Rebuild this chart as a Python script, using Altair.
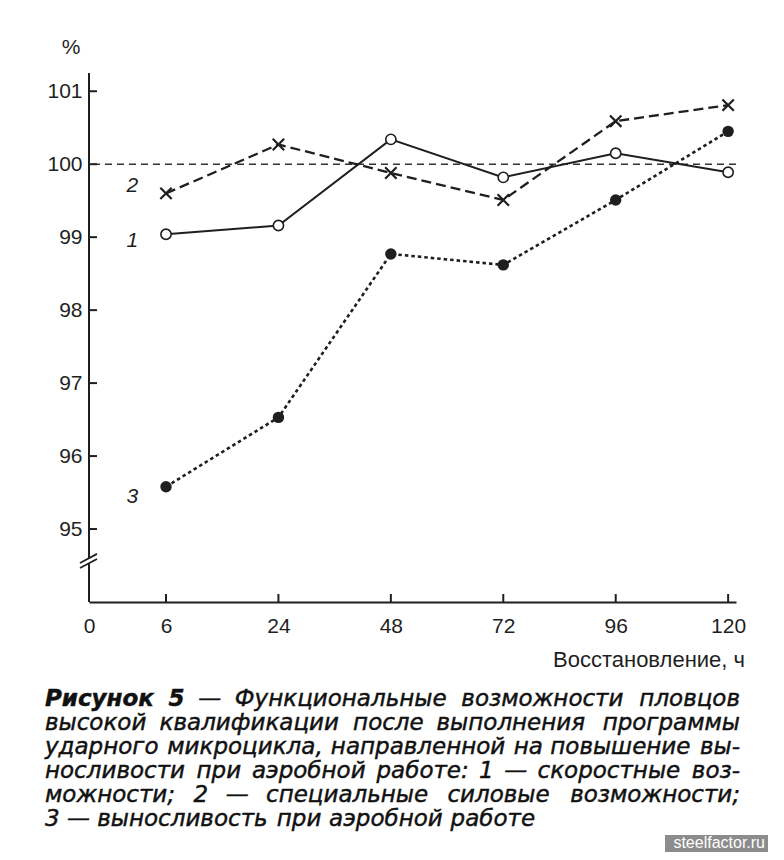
import altair as alt
import pandas as pd

# ---------------- data ----------------
hours = ["6", "24", "48", "72", "96", "120"]
speed = [99.04, 99.16, 100.34, 99.82, 100.15, 99.89]        # 1 — скоростные возможности
strength = [99.60, 100.27, 99.88, 99.51, 100.59, 100.81]    # 2 — специальные силовые возможности
endurance = [95.58, 96.53, 98.77, 98.62, 99.51, 100.45]     # 3 — выносливость при аэробной работе
y_ticks = [95, 96, 97, 98, 99, 100, 101]
series_names = ["1", "2", "3"]
label_values = [98.95, 99.70, 95.44]
reference_value = 100

y_axis_title = "%"
x_axis_title = "Восстановление, ч"
caption_lines = [
    "Рисунок 5 — Функциональные возможности пловцов",
    "высокой квалификации после выполнения программы",
    "ударного микроцикла, направленной на повышение вы-",
    "носливости при аэробной работе: 1 — скоростные воз-",
    "можности; 2 — специальные силовые возможности;",
    "3 — выносливость при аэробной работе",
]
bold_words = 2
watermark = "steelfactor.ru"

# ---------------- layout ----------------
W, H = 647, 529
FONT = "Liberation Sans"
CAP_FONT = "DejaVu Sans"
CAP_SIZE = 23
INK = "#1f1f1f"

xs = alt.Scale(domain=[0.315, 6.07], nice=False, zero=False)
ys = alt.Scale(domain=[94, 101.25], nice=False, zero=False)

x_positions = list(range(1, len(hours) + 1))
tick_vals = [0.315] + x_positions
label_expr = "datum.value < 0.5 ? '0' : " + str(hours) + "[round(datum.value) - 1]"

df = pd.DataFrame({
    "pos": x_positions * 3,
    "hour": hours * 3,
    "value": speed + strength + endurance,
    "series": ["1"] * 6 + ["2"] * 6 + ["3"] * 6,
})

x_axis = alt.Axis(values=tick_vals, labelExpr=label_expr, title=None, grid=False,
                  ticks=False, domain=True, domainColor=INK, domainWidth=2,
                  labelFont=FONT, labelFontSize=21, labelColor=INK, labelPadding=13,
                  labelFlush=False, labelOverlap=False, labelBound=False)
y_axis = alt.Axis(values=y_ticks, title=None, grid=False, ticks=False, domain=False,
                  labelFont=FONT, labelFontSize=21, labelColor=INK, labelPadding=7,
                  labelFlush=False, labelOverlap=False)


def XF(field):
    return alt.X(field, scale=xs, axis=x_axis)


def YF(field):
    return alt.Y(field, scale=ys, axis=y_axis)


base = alt.Chart(df)

ref = alt.Chart(pd.DataFrame({"v": [reference_value]})).mark_rule(
    color="#333333", strokeWidth=1.4, strokeDash=[7, 5]
).encode(y=YF("v:Q"))

line1 = base.transform_filter("datum.series == '1'").mark_line(
    color=INK, strokeWidth=2
).encode(x=XF("pos:Q"), y=YF("value:Q"))
line2 = base.transform_filter("datum.series == '2'").mark_line(
    color=INK, strokeWidth=2.3, strokeDash=[10, 5]
).encode(x=XF("pos:Q"), y=YF("value:Q"))
line3 = base.transform_filter("datum.series == '3'").mark_line(
    color=INK, strokeWidth=2.6, strokeDash=[3.5, 3]
).encode(x=XF("pos:Q"), y=YF("value:Q"))

pts1 = base.transform_filter("datum.series == '1'").mark_point(
    shape="circle", filled=True, fill="white", stroke=INK, strokeWidth=1.6, size=105, opacity=1
).encode(x=XF("pos:Q"), y=YF("value:Q"))
pts2 = base.transform_filter("datum.series == '2'").mark_point(
    shape="M-1,-1L1,1M-1,1L1,-1", filled=False, stroke=INK, strokeWidth=2.2, size=130, opacity=1
).encode(x=XF("pos:Q"), y=YF("value:Q"))
pts3 = base.transform_filter("datum.series == '3'").mark_point(
    shape="circle", filled=True, color=INK, size=130, opacity=1
).encode(x=XF("pos:Q"), y=YF("value:Q"))

# y axis line with a break
axis_seg = alt.Chart(pd.DataFrame({"y1": [94.0, 94.60], "y2": [94.53, 101.25]})).mark_rule(
    color=INK, strokeWidth=2
).encode(x=alt.value(0), y=YF("y1:Q"), y2="y2:Q")
brk = alt.Chart(pd.DataFrame({"ya": [94.535, 94.467], "yb": [94.66, 94.59]})).mark_rule(
    color=INK, strokeWidth=1.8
).encode(x=alt.value(-9), x2=alt.value(8), y=YF("ya:Q"), y2="yb:Q")

ytk = alt.Chart(pd.DataFrame({"t": y_ticks})).mark_rule(color=INK, strokeWidth=2).encode(
    y=YF("t:Q"), x=alt.value(0), x2=alt.value(8))
xtk = alt.Chart(pd.DataFrame({"p": x_positions})).mark_rule(color=INK, strokeWidth=2).encode(
    x=XF("p:Q"), y=alt.value(H - 8), y2=alt.value(H))

labels = alt.Chart(pd.DataFrame({"t": series_names, "v": label_values, "p": [0.70] * 3})).mark_text(
    font=FONT, fontSize=21, fontStyle="italic", color=INK, align="center", baseline="middle"
).encode(x=XF("p:Q"), y=YF("v:Q"), text="t:N")

pct = alt.Chart(pd.DataFrame({"t": [y_axis_title]})).mark_text(
    font=FONT, fontSize=21, color=INK, align="center", baseline="middle"
).encode(x=alt.value(-18), y=alt.value(-25), text="t:N")
xt = alt.Chart(pd.DataFrame({"t": [x_axis_title]})).mark_text(
    font=FONT, fontSize=22, color=INK, align="right", baseline="middle"
).encode(x=alt.value(656), y=alt.value(587), text="t:N")

# ---------------- caption (justified word placement) ----------------
glyph = {'а': .613, 'б': .617, 'в': .592, 'г': .57, 'д': .7, 'е': .615, 'ж': .92, 'з': .55,
         'и': .662, 'й': .662, 'к': .6, 'л': .654, 'м': .77, 'н': .662, 'о': .612, 'п': .662,
         'р': .635, 'с': .55, 'т': .58, 'у': .6, 'ф': .88, 'х': .592, 'ц': .678, 'ч': .625,
         'ш': .925, 'щ': .935, 'ь': .6, 'ы': .82, 'э': .55, 'ю': .89, 'я': .63, 'Р': .66,
         'Ф': .82, '—': 1.0, ':': .337, ';': .337, ',': .318, '-': .361}


def word_w(w, bold=False):
    s = sum(glyph.get(c, .636) for c in w) * CAP_SIZE
    return s * 1.1 if bold else s


LEFT, RIGHT = 45 - 89, 740 - 89
rows = []
for i, line in enumerate(caption_lines):
    words = line.split(" ")
    yb = 633 + 24 * i
    last = i == len(caption_lines) - 1
    widths = [word_w(w, bold=(i == 0 and k < bold_words)) for k, w in enumerate(words)]
    if last:
        gap = 0.318 * CAP_SIZE
    else:
        gap = (RIGHT - LEFT - sum(widths)) / (len(words) - 1)
    xcur = LEFT
    for k, w in enumerate(words):
        is_last_word = (k == len(words) - 1) and not last
        rows.append({"w": w, "px": RIGHT if is_last_word else xcur, "py": yb,
                     "al": "right" if is_last_word else "left",
                     "b": "bold" if (i == 0 and k < bold_words) else "normal"})
        xcur += widths[k] + gap
cap = pd.DataFrame(rows)


def cap_layer(weight, align):
    return alt.Chart(cap).transform_filter(
        f"datum.b == '{weight}' && datum.al == '{align}'"
    ).mark_text(font=CAP_FONT, fontSize=CAP_SIZE, fontStyle="italic", fontWeight=weight,
                color="#111111", stroke="#111111", strokeWidth=0.45,
                align=align, baseline="alphabetic").encode(
        x=alt.X("px:Q", scale=None, axis=None), y=alt.Y("py:Q", scale=None, axis=None), text="w:N")


caps = [cap_layer("bold", "left"), cap_layer("normal", "left"), cap_layer("normal", "right")]

wm_rect = alt.Chart(pd.DataFrame({"a": [0]})).mark_rect(color="#8c8c8c").encode(
    x=alt.value(576), x2=alt.value(679), y=alt.value(762), y2=alt.value(790))
wm_text = alt.Chart(pd.DataFrame({"t": [watermark]})).mark_text(
    font=FONT, fontSize=16, color="white", align="right", baseline="middle"
).encode(x=alt.value(676), y=alt.value(770), text="t:N")

chart = alt.layer(
    ref, line1, line2, line3, pts1, pts2, pts3, axis_seg, brk, ytk, xtk, labels, pct, xt,
    *caps, wm_rect, wm_text
).properties(
    width=W, height=H,
    autosize=alt.AutoSizeParams(type="none"),
    padding={"left": 81, "top": 65, "right": 32, "bottom": 250},
    background="white",
).configure_view(stroke=None)

chart.save("out.html", embed_options={"renderer": "svg", "actions": False})
